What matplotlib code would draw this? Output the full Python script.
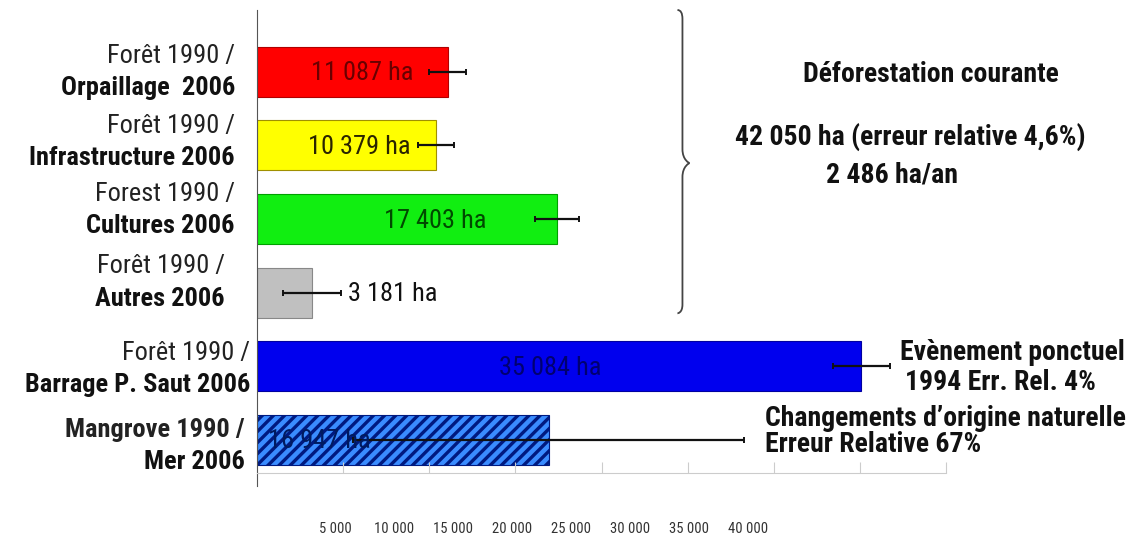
import matplotlib
matplotlib.use('Agg')
import matplotlib.pyplot as plt
from matplotlib.path import Path
from matplotlib.patches import PathPatch

plt.rcParams['font.family'] = ['Roboto Condensed', 'Liberation Sans', 'DejaVu Sans']
plt.rcParams['hatch.linewidth'] = 2.4

# data
label_top = ['Forêt 1990 /', 'Forêt 1990 /', 'Forest 1990 /', 'Forêt 1990 /',
             'Forêt 1990 /', 'Mangrove 1990 /']
label_bottom = ['Orpaillage  2006', 'Infrastructure 2006', 'Cultures 2006',
                'Autres 2006', 'Barrage P. Saut 2006', 'Mer 2006']
areas = [11087, 10379, 17403, 3181, 35084, 16947]
errors = [1075, 1050, 1280, 1680, 1650, 11354]
value_text = ['11 087 ha', '10 379 ha', '17 403 ha', '3 181 ha', '35 084 ha', '16 947 ha']
ticks = [5000, 10000, 15000, 20000, 25000, 30000, 35000, 40000]
tick_text = ['5 000', '10 000', '15 000', '20 000', '25 000', '30 000', '35 000', '40 000']

colors = ['#ff0000', '#ffff00', '#11ee11', '#c0c0c0', '#0000ee', '#3a8cff']
edges = ['#b00000', '#a09000', '#00a000', '#888888', '#0000a0', '#001a80']
text_colors = ['#6a0000', '#2a2400', '#004a00', '#111111', '#000070', '#001a60']
text_x = [6100, 5950, 10350, 5300, 17050, 3600]
text_ha = ['center', 'center', 'center', 'left', 'center', 'center']
top_bold = [False, False, False, False, False, True]
label_right = [-22, -22, -22, -32, -7, -12]
label_shift = [0.0, -0.05, -0.12, -0.14, 0.04, 0.08]

fig = plt.figure(figsize=(11.37, 5.41), dpi=100)
ax = fig.add_axes([257 / 1137, 1 - 473 / 541, 689 / 1137, 463 / 541])

pos = list(range(len(areas)))
for i in pos:
    hatch = '///' if i == 5 else None
    ax.barh(i, areas[i], height=0.68, color=colors[i], edgecolor=edges[i],
            linewidth=0.8, hatch=hatch)
ax.errorbar(areas, pos, xerr=errors, fmt='none', ecolor='#111111',
            elinewidth=1.6, capsize=2.5, capthick=1.4)

for i in pos:
    ax.text(text_x[i], i + 0.02, value_text[i], ha=text_ha[i], va='center',
            fontsize=19, color=text_colors[i])
    ax.annotate(label_top[i], xy=(0, i + label_shift[i] - 0.22), xycoords='data',
                xytext=(label_right[i], 0), textcoords='offset pixels',
                ha='right', va='center', fontsize=19,
                fontweight='bold' if top_bold[i] else 'normal', color='#222222')
    ax.annotate(label_bottom[i], xy=(0, i + label_shift[i] + 0.22), xycoords='data',
                xytext=(label_right[i], 0), textcoords='offset pixels',
                ha='right', va='center', fontsize=19, fontweight='bold',
                color='#111111')

ax.set_xlim(0, 40000)
ax.set_ylim(5.45, -0.84)
ax.set_xticks(ticks)
ax.set_xticklabels([])
ax.set_yticks([])
ax.tick_params(axis='x', direction='in', length=8, color='#cccccc')
for side in ('top', 'right'):
    ax.spines[side].set_visible(False)
ax.spines['left'].set_color('#555555')
ax.spines['left'].set_bounds(5.62, -0.84)
ax.spines['bottom'].set_color('#cccccc')

# misplaced tick labels under the chart
ax2 = fig.add_axes([276 / 1137, 1 - 518 / 541, 472 / 1137, 0.0001])
ax2.set_xlim(0, 40000)
ax2.set_xticks(ticks)
ax2.set_xticklabels(tick_text, fontsize=10.5, color='#333333')
ax2.set_yticks([])
ax2.tick_params(axis='x', length=0, pad=3)
for s in ax2.spines.values():
    s.set_visible(False)
ax2.patch.set_visible(False)

# curly brace
bx, ux = 24700, 58.0
verts = [
    (bx - 5 * ux, -0.84), (bx, -0.84), (bx, -0.72),
    (bx, 1.05),
    (bx, 1.2), (bx + 7 * ux, 1.24), (bx + 7 * ux, 1.24),
    (bx + 7 * ux, 1.24), (bx, 1.28), (bx, 1.43),
    (bx, 3.16),
    (bx, 3.28), (bx - 5 * ux, 3.28), (bx - 5 * ux, 3.28),
]
codes = [Path.MOVETO, Path.CURVE3, Path.CURVE3, Path.LINETO,
         Path.CURVE4, Path.CURVE4, Path.CURVE4,
         Path.CURVE4, Path.CURVE4, Path.CURVE4,
         Path.LINETO, Path.CURVE4, Path.CURVE4, Path.CURVE4]
ax.add_patch(PathPatch(Path(verts, codes), facecolor='none', edgecolor='#444444',
                       linewidth=1.3, clip_on=False))

note = dict(va='center', fontsize=20, fontweight='bold', color='#111111')
fig.text(931 / 1137, 1 - 75 / 541, 'Déforestation courante', ha='center', **note)
fig.text(910 / 1137, 1 - 137 / 541, '42 050 ha (erreur relative 4,6%)', ha='center', **note)
fig.text(826 / 1137, 1 - 175 / 541, '2 486 ha/an', ha='left', **note)
fig.text(900 / 1137, 1 - 352 / 541, 'Evènement ponctuel', ha='left', **note)
fig.text(905 / 1137, 1 - 382 / 541, '1994 Err. Rel. 4%', ha='left', **note)
fig.text(765 / 1137, 1 - 419 / 541, 'Changements d’origine naturelle', ha='left', **note)
fig.text(765 / 1137, 1 - 444 / 541, 'Erreur Relative 67%', ha='left', **note)

fig.savefig('out.png', dpi=100)
